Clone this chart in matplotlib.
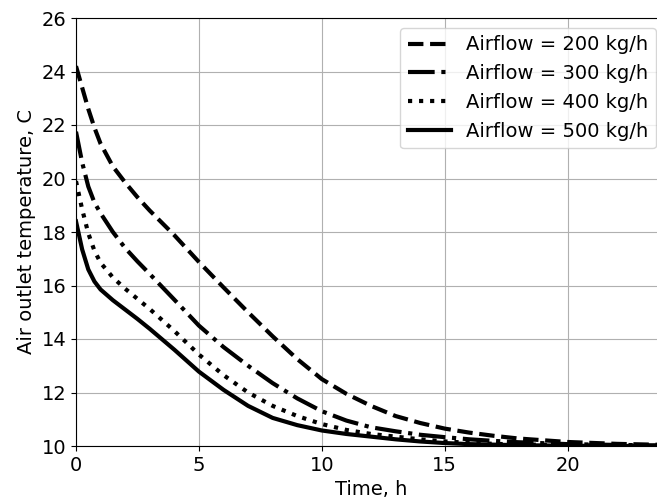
import matplotlib
matplotlib.use("Agg")
import matplotlib.pyplot as plt

size = 14

time_h = [0, 0.25, 0.5, 0.75, 1, 1.5, 2, 2.5, 3, 4, 5, 6, 7, 8, 9, 10,
          11, 12, 13, 14, 15, 16, 17, 18, 20, 22, 24]

t_200 = [24.2, 23.4, 22.6, 21.9, 21.3, 20.45, 19.85, 19.3, 18.8, 17.88, 16.88,
         15.93, 15.0, 14.1, 13.25, 12.5, 11.95, 11.5, 11.12, 10.86, 10.65,
         10.5, 10.38, 10.28, 10.15, 10.08, 10.04]
t_300 = [21.75, 20.6, 19.7, 19.1, 18.7, 18.0, 17.4, 16.9, 16.43, 15.47,
         14.5, 13.7, 13.0, 12.35, 11.78, 11.3, 10.95, 10.7, 10.55, 10.42,
         10.33, 10.25, 10.19, 10.14, 10.07, 10.04, 10.02]
t_400 = [19.9, 18.85, 17.95, 17.3, 16.85, 16.3, 15.88, 15.5, 15.12, 14.3,
         13.42, 12.65, 12.0, 11.5, 11.12, 10.82, 10.6, 10.45, 10.35, 10.25,
         10.17, 10.12, 10.08, 10.06, 10.03, 10.01, 10.0]
t_500 = [18.4, 17.35, 16.6, 16.15, 15.85, 15.45, 15.1, 14.75, 14.38, 13.6,
         12.78, 12.1, 11.5, 11.05, 10.78, 10.58, 10.45, 10.35, 10.25, 10.17,
         10.11, 10.07, 10.05, 10.03, 10.01, 10.0, 10.0]

series = [(t_200, "--", "Airflow = 200 kg/h"),
          (t_300, "-.", "Airflow = 300 kg/h"),
          (t_400, ":", "Airflow = 400 kg/h"),
          (t_500, "-", "Airflow = 500 kg/h")]

fig = plt.figure(figsize=(6.57, 5.03), dpi=100)
# axes run slightly past the right edge, as in the cropped original
ax = fig.add_axes([76/657, 57/503, 590/657, 428/503])

for yv, ls, lab in series:
    ax.plot(time_h, yv, linestyle=ls, color="black", linewidth=3, label=lab)

ax.set_xlim(0, 24)
ax.set_ylim(10, 26)
ax.set_xticks([0, 5, 10, 15, 20])
ax.set_yticks([10, 12, 14, 16, 18, 20, 22, 24, 26])

ax.set_xlabel("Time, h", fontsize=size)
ax.set_ylabel("Air outlet temperature, C", fontsize=size)
ax.tick_params(axis='both', labelsize=size)

ax.grid(True)
ax.legend(loc="upper right", fontsize=size, handlelength=2.2)

fig.savefig("out.png", dpi=100)
